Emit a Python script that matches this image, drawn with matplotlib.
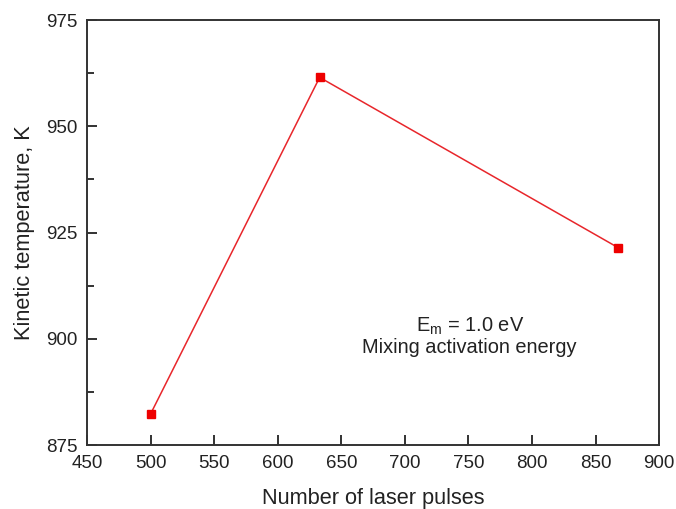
import matplotlib
matplotlib.use("Agg")
import matplotlib.pyplot as plt
from matplotlib.ticker import MultipleLocator

pulses = [500, 633, 868]
temps = [882.3, 961.5, 921.4]
x_ticks = [450, 500, 550, 600, 650, 700, 750, 800, 850, 900]
y_ticks = [875, 900, 925, 950, 975]

plt.rcParams['font.family'] = ['Liberation Sans', 'DejaVu Sans']

fig = plt.figure(figsize=(6.76, 5.09), dpi=100)
ax = fig.add_axes([0.1287, 0.1257, 0.975 - 0.1287, 0.9607 - 0.1257])
ax.plot(pulses, temps, color='#e8262b', lw=1.1, marker='s', markersize=5.3,
        markerfacecolor='#ee0000', markeredgecolor='#ee0000')
ax.set_xlim(450, 900)
ax.set_ylim(875, 975)
ax.set_xticks(x_ticks)
ax.set_yticks(y_ticks)
ax.yaxis.set_minor_locator(MultipleLocator(12.5))
ax.tick_params(axis='both', which='both', direction='in', top=False, right=False,
               labelsize=13.5, width=1.3, color='#222222', labelcolor='#222222')
ax.tick_params(which='major', length=7)
ax.tick_params(which='minor', length=5)
ax.tick_params(axis='x', pad=7.5)
ax.tick_params(axis='y', pad=7)
for s in ax.spines.values():
    s.set_linewidth(1.4)
    s.set_color('#333333')
ax.set_xlabel('Number of laser pulses', fontsize=15.7, labelpad=11, color='#222222')
ax.set_ylabel('Kinetic temperature, K', fontsize=15.7, labelpad=8, color='#222222')
ax.text(0.669, 0.256, r'E$_\mathregular{m}$ = 1.0 eV' + '\nMixing activation energy',
        transform=ax.transAxes, ha='center', va='center', fontsize=14.4,
        linespacing=1.1, color='#222222')
fig.savefig('out.png', dpi=100)
